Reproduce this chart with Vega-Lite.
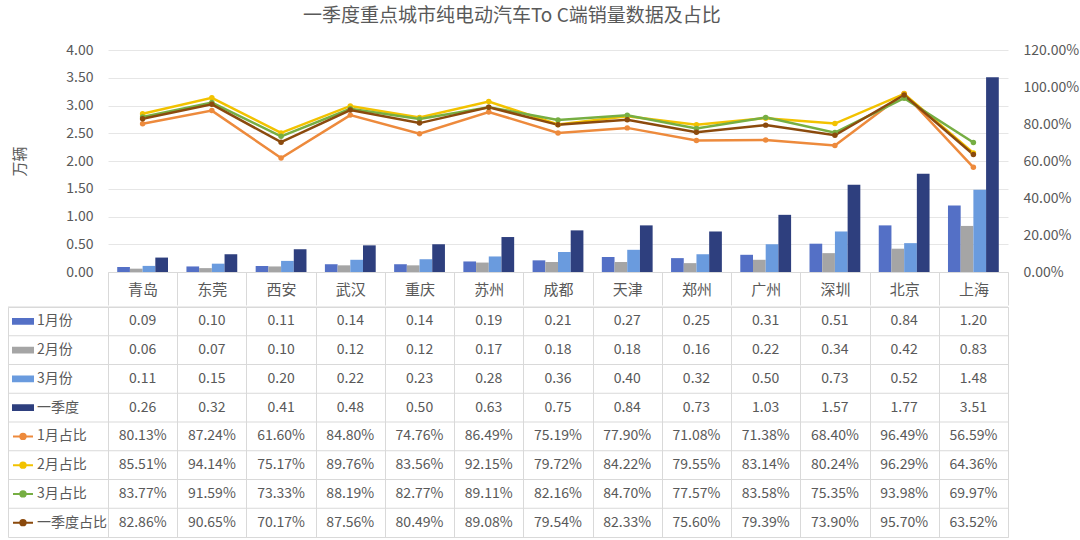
{
  "$schema": "https://vega.github.io/schema/vega-lite/v6.json",
  "padding": {"left": 7, "top": 7, "right": 4, "bottom": 4},
  "background": "white",
  "title": {"text": "一季度重点城市纯电动汽车To C端销量数据及占比", "fontSize": 19, "fontWeight": "normal", "color": "#595959", "font": "Noto Sans CJK SC", "anchor": "middle", "offset": 17, "dx": -31},
  "config": {
    "view": {"stroke": null},
    "font": "Noto Sans CJK SC",
    "axis": {"labelFont": "Noto Sans CJK SC", "labelColor": "#595959", "labelFontSize": 14, "titleFont": "Noto Sans CJK SC"}
  },
  "spacing": 0,
  "datasets": {
    "rows": [
      {"series": "1月份"}, {"series": "2月份"}, {"series": "3月份"}, {"series": "一季度"},
      {"series": "1月占比"}, {"series": "2月占比"}, {"series": "3月占比"}, {"series": "一季度占比"}
    ],
    "sales": [
      {"city": "青岛", "series": "1月份", "value": 0.09}, {"city": "东莞", "series": "1月份", "value": 0.10}, {"city": "西安", "series": "1月份", "value": 0.11}, {"city": "武汉", "series": "1月份", "value": 0.14}, {"city": "重庆", "series": "1月份", "value": 0.14}, {"city": "苏州", "series": "1月份", "value": 0.19}, {"city": "成都", "series": "1月份", "value": 0.21}, {"city": "天津", "series": "1月份", "value": 0.27}, {"city": "郑州", "series": "1月份", "value": 0.25}, {"city": "广州", "series": "1月份", "value": 0.31}, {"city": "深圳", "series": "1月份", "value": 0.51}, {"city": "北京", "series": "1月份", "value": 0.84}, {"city": "上海", "series": "1月份", "value": 1.20},
      {"city": "青岛", "series": "2月份", "value": 0.06}, {"city": "东莞", "series": "2月份", "value": 0.07}, {"city": "西安", "series": "2月份", "value": 0.10}, {"city": "武汉", "series": "2月份", "value": 0.12}, {"city": "重庆", "series": "2月份", "value": 0.12}, {"city": "苏州", "series": "2月份", "value": 0.17}, {"city": "成都", "series": "2月份", "value": 0.18}, {"city": "天津", "series": "2月份", "value": 0.18}, {"city": "郑州", "series": "2月份", "value": 0.16}, {"city": "广州", "series": "2月份", "value": 0.22}, {"city": "深圳", "series": "2月份", "value": 0.34}, {"city": "北京", "series": "2月份", "value": 0.42}, {"city": "上海", "series": "2月份", "value": 0.83},
      {"city": "青岛", "series": "3月份", "value": 0.11}, {"city": "东莞", "series": "3月份", "value": 0.15}, {"city": "西安", "series": "3月份", "value": 0.20}, {"city": "武汉", "series": "3月份", "value": 0.22}, {"city": "重庆", "series": "3月份", "value": 0.23}, {"city": "苏州", "series": "3月份", "value": 0.28}, {"city": "成都", "series": "3月份", "value": 0.36}, {"city": "天津", "series": "3月份", "value": 0.40}, {"city": "郑州", "series": "3月份", "value": 0.32}, {"city": "广州", "series": "3月份", "value": 0.50}, {"city": "深圳", "series": "3月份", "value": 0.73}, {"city": "北京", "series": "3月份", "value": 0.52}, {"city": "上海", "series": "3月份", "value": 1.48},
      {"city": "青岛", "series": "一季度", "value": 0.26}, {"city": "东莞", "series": "一季度", "value": 0.32}, {"city": "西安", "series": "一季度", "value": 0.41}, {"city": "武汉", "series": "一季度", "value": 0.48}, {"city": "重庆", "series": "一季度", "value": 0.50}, {"city": "苏州", "series": "一季度", "value": 0.63}, {"city": "成都", "series": "一季度", "value": 0.75}, {"city": "天津", "series": "一季度", "value": 0.84}, {"city": "郑州", "series": "一季度", "value": 0.73}, {"city": "广州", "series": "一季度", "value": 1.03}, {"city": "深圳", "series": "一季度", "value": 1.57}, {"city": "北京", "series": "一季度", "value": 1.77}, {"city": "上海", "series": "一季度", "value": 3.51}
    ],
    "share": [
      {"city": "青岛", "series": "1月占比", "value": 0.8013}, {"city": "东莞", "series": "1月占比", "value": 0.8724}, {"city": "西安", "series": "1月占比", "value": 0.6160}, {"city": "武汉", "series": "1月占比", "value": 0.8480}, {"city": "重庆", "series": "1月占比", "value": 0.7476}, {"city": "苏州", "series": "1月占比", "value": 0.8649}, {"city": "成都", "series": "1月占比", "value": 0.7519}, {"city": "天津", "series": "1月占比", "value": 0.7790}, {"city": "郑州", "series": "1月占比", "value": 0.7108}, {"city": "广州", "series": "1月占比", "value": 0.7138}, {"city": "深圳", "series": "1月占比", "value": 0.6840}, {"city": "北京", "series": "1月占比", "value": 0.9649}, {"city": "上海", "series": "1月占比", "value": 0.5659},
      {"city": "青岛", "series": "2月占比", "value": 0.8551}, {"city": "东莞", "series": "2月占比", "value": 0.9414}, {"city": "西安", "series": "2月占比", "value": 0.7517}, {"city": "武汉", "series": "2月占比", "value": 0.8976}, {"city": "重庆", "series": "2月占比", "value": 0.8356}, {"city": "苏州", "series": "2月占比", "value": 0.9215}, {"city": "成都", "series": "2月占比", "value": 0.7972}, {"city": "天津", "series": "2月占比", "value": 0.8422}, {"city": "郑州", "series": "2月占比", "value": 0.7955}, {"city": "广州", "series": "2月占比", "value": 0.8314}, {"city": "深圳", "series": "2月占比", "value": 0.8024}, {"city": "北京", "series": "2月占比", "value": 0.9629}, {"city": "上海", "series": "2月占比", "value": 0.6436},
      {"city": "青岛", "series": "3月占比", "value": 0.8377}, {"city": "东莞", "series": "3月占比", "value": 0.9159}, {"city": "西安", "series": "3月占比", "value": 0.7333}, {"city": "武汉", "series": "3月占比", "value": 0.8819}, {"city": "重庆", "series": "3月占比", "value": 0.8277}, {"city": "苏州", "series": "3月占比", "value": 0.8911}, {"city": "成都", "series": "3月占比", "value": 0.8216}, {"city": "天津", "series": "3月占比", "value": 0.8470}, {"city": "郑州", "series": "3月占比", "value": 0.7757}, {"city": "广州", "series": "3月占比", "value": 0.8358}, {"city": "深圳", "series": "3月占比", "value": 0.7535}, {"city": "北京", "series": "3月占比", "value": 0.9398}, {"city": "上海", "series": "3月占比", "value": 0.6997},
      {"city": "青岛", "series": "一季度占比", "value": 0.8286}, {"city": "东莞", "series": "一季度占比", "value": 0.9065}, {"city": "西安", "series": "一季度占比", "value": 0.7017}, {"city": "武汉", "series": "一季度占比", "value": 0.8756}, {"city": "重庆", "series": "一季度占比", "value": 0.8049}, {"city": "苏州", "series": "一季度占比", "value": 0.8908}, {"city": "成都", "series": "一季度占比", "value": 0.7954}, {"city": "天津", "series": "一季度占比", "value": 0.8233}, {"city": "郑州", "series": "一季度占比", "value": 0.7560}, {"city": "广州", "series": "一季度占比", "value": 0.7939}, {"city": "深圳", "series": "一季度占比", "value": 0.7390}, {"city": "北京", "series": "一季度占比", "value": 0.9570}, {"city": "上海", "series": "一季度占比", "value": 0.6352}
    ]
  },
  "vconcat": [
    {
      "width": 1000,
      "height": 222,
      "layer": [
        {
          "data": {"name": "sales"},
          "mark": {"type": "bar"},
          "encoding": {
            "x": {
              "field": "city", "type": "nominal",
              "scale": {"domain": ["青岛","东莞","西安","武汉","重庆","苏州","成都","天津","郑州","广州","深圳","北京","上海"], "range": [100, 1000], "paddingInner": 0, "paddingOuter": 0},
              "axis": {"title": null, "labelAngle": 0, "domainColor": "#d9d9d9", "tickColor": "#d9d9d9", "tickSize": 33, "tickBand": "extent", "labelPadding": -16, "labelBaseline": "middle", "labelFontSize": 15, "grid": false}
            },
            "xOffset": {"field": "series", "type": "nominal", "scale": {"domain": ["1月份","2月份","3月份","一季度"], "paddingInner": 0, "paddingOuter": 0.725}},
            "y": {
              "field": "value", "type": "quantitative",
              "scale": {"domain": [0, 4]},
              "axis": {"orient": "left", "offset": -100, "values": [0, 0.5, 1, 1.5, 2, 2.5, 3, 3.5, 4], "format": ".2f", "grid": true, "gridColor": "#e6e6e6", "domain": false, "ticks": false, "labelPadding": 15, "title": "万辆", "titleX": -89, "titleY": 111, "titleAngle": 270, "titleFontSize": 15, "titleFontWeight": "normal", "titleColor": "#595959", "titleAlign": "center", "titleBaseline": "middle"}
            },
            "color": {
              "field": "series", "type": "nominal", "legend": null,
              "scale": {"domain": ["1月份","2月份","3月份","一季度","1月占比","2月占比","3月占比","一季度占比"], "range": ["#5470C6","#A5A5A5","#6A9BDE","#2E3F7E","#ED8A3C","#F2C200","#76AE43","#8B4A0D"]}
            }
          }
        },
        {
          "data": {"name": "share"},
          "mark": {"type": "line", "strokeWidth": 2.5, "point": {"filled": true, "size": 30, "opacity": 1}},
          "encoding": {
            "x": {"field": "city", "type": "nominal"},
            "y": {
              "field": "value", "type": "quantitative",
              "scale": {"domain": [0, 1.2]},
              "axis": {"orient": "right", "values": [0, 0.2, 0.4, 0.6, 0.8, 1.0, 1.2], "format": ".2%", "grid": false, "domain": false, "ticks": false, "labelPadding": 15, "title": null}
            },
            "color": {"field": "series", "type": "nominal", "legend": null}
          }
        }
      ],
      "resolve": {"scale": {"y": "independent"}}
    },
    {
      "width": 1000,
      "height": 230,
      "view": {"stroke": "#d9d9d9"},
      "layer": [
        {
          "data": {"name": "rows"},
          "mark": {"type": "rule", "color": "#d9d9d9", "strokeWidth": 1},
          "encoding": {
            "y": {"field": "series", "type": "nominal", "bandPosition": 0, "scale": {"domain": ["1月份","2月份","3月份","一季度","1月占比","2月占比","3月占比","一季度占比"], "paddingInner": 0, "paddingOuter": 0}, "axis": null}
          }
        },
        {
          "data": {"name": "sales"},
          "mark": {"type": "text", "fontSize": 14, "color": "#595959"},
          "encoding": {
            "x": {
              "field": "city", "type": "nominal",
              "scale": {"domain": ["青岛","东莞","西安","武汉","重庆","苏州","成都","天津","郑州","广州","深圳","北京","上海"], "range": [100, 1000], "paddingInner": 0, "paddingOuter": 0},
              "axis": {"title": null, "grid": true, "gridColor": "#d9d9d9", "tickBand": "extent", "labels": false, "ticks": false, "domain": false}
            },
            "y": {"field": "series", "type": "nominal"},
            "text": {"field": "value", "type": "quantitative", "format": ".2f"}
          }
        },
        {
          "data": {"name": "share"},
          "mark": {"type": "text", "fontSize": 14, "color": "#595959"},
          "encoding": {
            "x": {"field": "city", "type": "nominal"},
            "y": {"field": "series", "type": "nominal"},
            "text": {"field": "value", "type": "quantitative", "format": ".2%"}
          }
        },
        {
          "data": {"name": "rows"},
          "mark": {"type": "text", "fontSize": 14, "color": "#595959", "align": "left"},
          "encoding": {
            "x": {"datum": "青岛", "bandPosition": -1.0256},
            "y": {"field": "series", "type": "nominal"},
            "text": {"field": "series", "type": "nominal"}
          }
        },
        {
          "data": {"name": "rows"},
          "mark": {"type": "point", "filled": true, "size": 400, "strokeWidth": 2, "opacity": 1},
          "encoding": {
            "x": {"datum": "青岛", "bandPosition": -1.2278},
            "y": {"field": "series", "type": "nominal"},
            "shape": {"field": "series", "type": "nominal", "legend": null, "scale": {"domain": ["1月份","2月份","3月份","一季度","1月占比","2月占比","3月占比","一季度占比"], "range": ["M-1,-0.23H1V0.23H-1Z","M-1,-0.23H1V0.23H-1Z","M-1,-0.23H1V0.23H-1Z","M-1,-0.23H1V0.23H-1Z","M-1,0H1M0.27,0A0.27,0.27,0,1,1,-0.27,0A0.27,0.27,0,1,1,0.27,0Z","M-1,0H1M0.27,0A0.27,0.27,0,1,1,-0.27,0A0.27,0.27,0,1,1,0.27,0Z","M-1,0H1M0.27,0A0.27,0.27,0,1,1,-0.27,0A0.27,0.27,0,1,1,0.27,0Z","M-1,0H1M0.27,0A0.27,0.27,0,1,1,-0.27,0A0.27,0.27,0,1,1,0.27,0Z"]}},
            "color": {"field": "series", "type": "nominal", "legend": null},
            "stroke": {"field": "series", "type": "nominal", "legend": null, "scale": {"domain": ["1月份","2月份","3月份","一季度","1月占比","2月占比","3月占比","一季度占比"], "range": ["#5470C6","#A5A5A5","#6A9BDE","#2E3F7E","#ED8A3C","#F2C200","#76AE43","#8B4A0D"]}}
          }
        }
      ]
    }
  ]
}
